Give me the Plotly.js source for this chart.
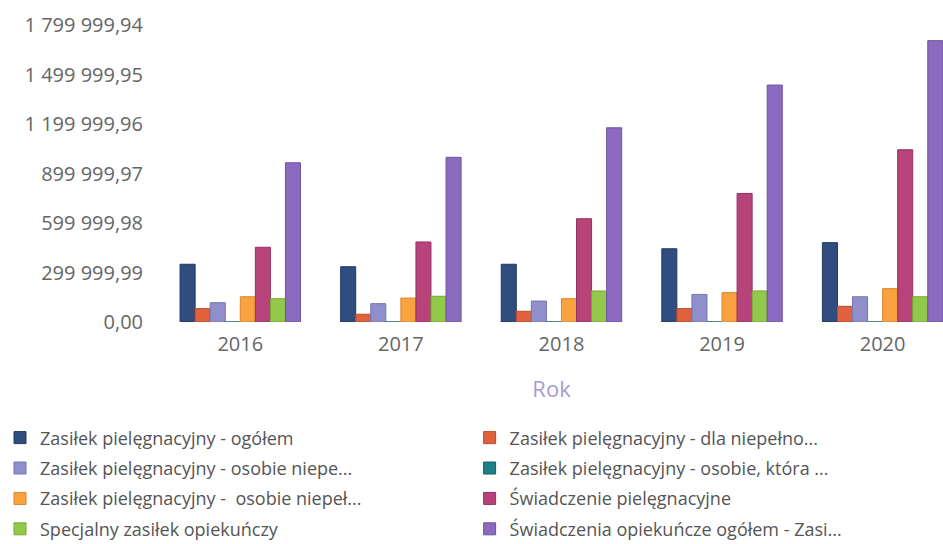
<!DOCTYPE html>
<html>
<head>
<meta charset="utf-8">
<script src="https://cdn.plot.ly/plotly-3.0.1.min.js"></script>
<style>
html,body{margin:0;padding:0;background:#fff;overflow:hidden;}
#chart{width:943px;height:544px;}
</style>
</head>
<body>
<div id="chart"></div>
<script>
const years = ['2016', '2017', '2018', '2019', '2020'];

const seriesNames = [
  'Zasiłek pielęgnacyjny - ogółem',
  'Zasiłek pielęgnacyjny - dla niepełno...',
  'Zasiłek pielęgnacyjny - osobie niepe...',
  'Zasiłek pielęgnacyjny - osobie, która ...',
  'Zasiłek pielęgnacyjny -\u00a0 osobie niepeł...',
  'Świadczenie pielęgnacyjne',
  'Specjalny zasiłek opiekuńczy',
  'Świadczenia opiekuńcze ogółem - Zasi...'
];

const zasilekOgolem      = [350000, 335000, 350000, 444000, 481000];
const zasilekDlaNiepelno = [81000, 47000, 65000, 81000, 95000];
const zasilekOsobieNiepe = [117000, 111000, 127000, 167000, 153000];
const zasilekOsobieKtora = [0, 0, 0, 0, 0];
const zasilekOsobieNiepel = [153000, 145000, 141000, 178000, 202000];
const swiadczeniePiel    = [453000, 485000, 626000, 779000, 1044000];
const specjalnyZasilek   = [141000, 156000, 188000, 188000, 153000];
const swiadczeniaOgolem  = [965000, 998000, 1177000, 1436000, 1705000];

const yTickVals = [0, 299999.99, 599999.98, 899999.97, 1199999.96, 1499999.95, 1799999.94];
const yTickText = ['0,00', '299 999,99', '599 999,98', '899 999,97', '1 199 999,96', '1 499 999,95', '1 799 999,94'];

const seriesValues = [zasilekOgolem, zasilekDlaNiepelno, zasilekOsobieNiepe, zasilekOsobieKtora,
  zasilekOsobieNiepel, swiadczeniePiel, specjalnyZasilek, swiadczeniaOgolem];
const colors = ['#2f4d7e', '#e0623c', '#8f8fcb', '#1e7f86', '#f9a23f', '#b8437b', '#92c94a', '#8a6bbf'];
const edge = ['#22395f', '#b84c2c', '#7475ad', '#155f64', '#d9862c', '#943260', '#74a835', '#6e52a0'];

const data = seriesValues.map((vals, i) => ({
  type: 'bar',
  x: years,
  y: vals,
  name: seriesNames[i],
  marker: {color: colors[i], line: {color: edge[i], width: 1}},
  legend: (i % 2 === 0) ? 'legend' : 'legend2',
  legendgroup: 'g' + i,
  hoverinfo: 'x+y+name'
}));

const legendCommon = {
  orientation: 'v',
  xref: 'container', yref: 'container',
  xanchor: 'left',
  yanchor: 'top',
  y: 0.229,
  font: {family: 'Open Sans, sans-serif', size: 18, color: '#555'},
  tracegroupgap: 4,
  bgcolor: 'rgba(0,0,0,0)'
};

const layout = {
  width: 943, height: 544,
  margin: {l: 160, r: 0, t: 20, b: 222, autoexpand: false},
  paper_bgcolor: '#fff', plot_bgcolor: '#fff',
  barmode: 'group',
  bargap: 0.25,
  bargroupgap: 0,
  showlegend: true,
  font: {family: 'Open Sans, sans-serif', color: '#666'},
  xaxis: {
    type: 'category',
    range: [-0.5, 4.376],
    showgrid: false, zeroline: false, showline: false,
    tickfont: {size: 20, color: '#666'},
    ticklabelstandoff: 8,
    title: {text: 'Rok', font: {size: 22, color: '#a49cd0'}, standoff: 25}
  },
  yaxis: {
    range: [0, 1830303],
    showgrid: false, zeroline: false, showline: false,
    tickmode: 'array', tickvals: yTickVals, ticktext: yTickText,
    tickfont: {size: 20, color: '#666'},
    ticklabelstandoff: 16
  },
  legend: Object.assign({}, legendCommon, {x: 0.0}),
  legend2: Object.assign({}, legendCommon, {x: 0.498})
};

Plotly.newPlot('chart', data, layout, {displayModeBar: false, staticPlot: true});
</script>
</body>
</html>
